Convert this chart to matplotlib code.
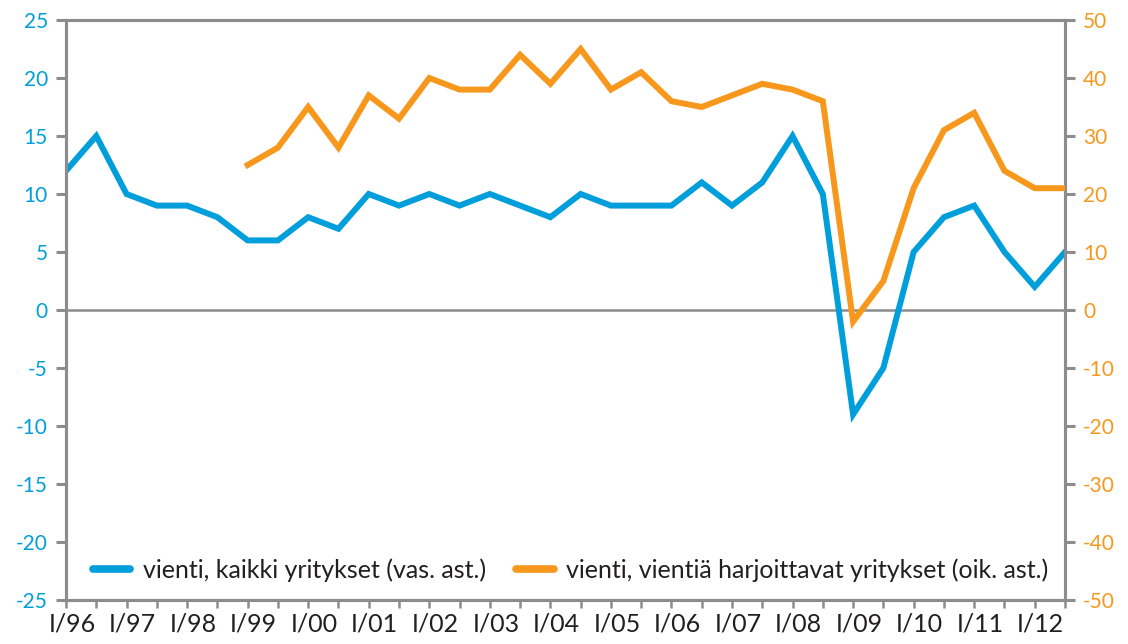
import matplotlib
matplotlib.use("Agg")
import matplotlib.pyplot as plt
import matplotlib.transforms as mtransforms
import numpy as np

plt.rcParams['font.family'] = ['Lato', 'DejaVu Sans']

# Semiannual observations I/96 ... III/12
blue_vals = [12, 15, 10, 9, 9, 8, 6, 6, 8, 7, 10, 9, 10, 9, 10, 9, 8, 10, 9, 9,
             9, 11, 9, 11, 15, 10, -9, -5, 5, 8, 9, 5, 2, 5]
orange_vals = [np.nan] * 6 + [25, 28, 35, 28, 37, 33, 40, 38, 38, 44, 39, 45, 38, 41,
                              36, 35, 37, 39, 38, 36, -2, 5, 21, 31, 34, 24, 21, 21]
year_labels = ["I/96", "I/97", "I/98", "I/99", "I/00", "I/01", "I/02", "I/03", "I/04",
               "I/05", "I/06", "I/07", "I/08", "I/09", "I/10", "I/11", "I/12"]
left_ticks = [-25, -20, -15, -10, -5, 0, 5, 10, 15, 20, 25]
right_ticks = [-50, -40, -30, -20, -10, 0, 10, 20, 30, 40, 50]
legend_labels = ["vienti, kaikki yritykset (vas. ast.)",
                 "vienti, vientiä harjoittavat yritykset (oik. ast.)"]

BLUE = "#009FDB"
ORANGE = "#F7981D"
GRAY = "#8C8C8E"
TEXT = "#231F20"

fig = plt.figure(figsize=(11.28, 6.44), dpi=100)
ax = fig.add_axes([66/1128, 44/644, (1065-66)/1128, (600-20)/644])
ax2 = ax.twinx()

x = np.arange(len(blue_vals))
l1, = ax.plot(x, blue_vals, color=BLUE, lw=4.3, solid_joinstyle='miter', zorder=3)
l2, = ax2.plot(x, orange_vals, color=ORANGE, lw=4.3, solid_joinstyle='miter', zorder=3)

ax.set_xlim(0, len(blue_vals) - 1)
ax.set_ylim(-25, 25)
ax2.set_ylim(-50, 50)
ax.axhline(0, color=GRAY, lw=1.8, zorder=2)

for a in (ax, ax2):
    for s in a.spines.values():
        s.set_color(GRAY)
        s.set_linewidth(2.2)

ax.set_yticks(left_ticks)
ax.set_yticklabels([str(t) for t in left_ticks])
ax.tick_params(axis='y', colors=GRAY, labelcolor=BLUE, labelsize=15, length=7,
               width=2.2, direction='out', pad=6)
ax2.set_yticks(right_ticks)
ax2.set_yticklabels([str(t) for t in right_ticks])
ax2.tick_params(axis='y', colors=GRAY, labelcolor=ORANGE, labelsize=15, length=7,
                width=2.2, direction='out', pad=6)

ax.set_xticks(x)
ax.set_xticklabels([year_labels[i // 2] if i % 2 == 0 else "" for i in x])
ax.tick_params(axis='x', colors=GRAY, labelcolor=TEXT, labelsize=18, length=6,
               width=1.8, direction='out', pad=3)
offset = mtransforms.ScaledTranslation(6/100, 0, fig.dpi_scale_trans)
for lab in ax.get_xticklabels():
    lab.set_transform(lab.get_transform() + offset)

ax2.set_zorder(ax.get_zorder() + 1)
ax.patch.set_visible(False)

leg = ax2.legend([l1, l2], legend_labels, loc='center left', ncol=2, frameon=False,
                 fontsize=18, bbox_to_anchor=(0.027, 0.052), borderpad=0,
                 borderaxespad=0, handlelength=1.5, handletextpad=0.5,
                 columnspacing=1.2)
for t in leg.get_texts():
    t.set_color(TEXT)
for h in leg.legend_handles:
    h.set_linewidth(5.5)
    h.set_solid_capstyle('round')

fig.savefig("out.png", dpi=100)
